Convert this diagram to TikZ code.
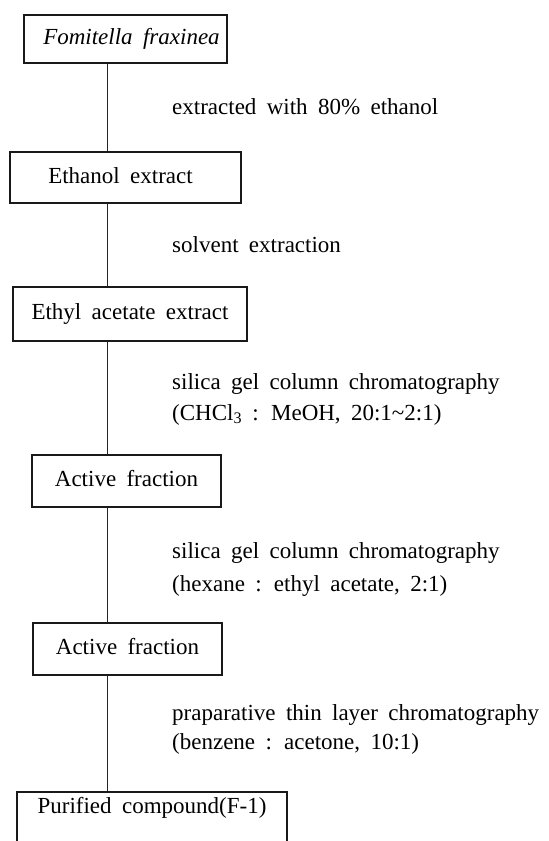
\documentclass[tikz,border=0pt]{standalone}
\usepackage{fontspec}
\setmainfont{Liberation Serif}[WordSpace=1.8]
\begin{document}
\begin{tikzpicture}[x=1pt,y=1pt,
  every node/.style={font=\fontsize{23}{28}\selectfont},
  box/.style={draw=black!90, line width=1.2pt, inner sep=0pt, text height=16pt, text depth=5pt},
  link/.style={draw=black!85, line width=0.9pt},
  lbl/.style={anchor=base west, inner sep=0pt}]
\useasboundingbox (0,0) rectangle (549,-841);
\clip (0,0) rectangle (549,-841);
\coordinate (spine) at (107,0);
% boxes
\node[box, minimum width=203pt, minimum height=48pt] (b1) at (125.5,-39) {\hspace*{12pt}\textit{Fomitella fraxinea}};
\node[box, minimum width=231pt, minimum height=51pt] (b2) at (125.5,-177.5) {Ethanol extract\hspace*{10pt}};
\node[box, minimum width=234pt, minimum height=54pt] (b3) at (130,-314) {Ethyl acetate extract};
\node[box, minimum width=189pt, minimum height=52pt] (b4) at (126.5,-481) {Active fraction};
\node[box, minimum width=189pt, minimum height=52pt] (b5) at (127.5,-649) {Active fraction};
\node[box, minimum width=270pt, minimum height=56pt, text depth=30pt] (b6) at (152,-820) {Purified compound(F-1)};
% connectors
\draw[link] (b1.south -| spine) -- (b2.north -| spine);
\draw[link] (b2.south -| spine) -- (b3.north -| spine);
\draw[link] (b3.south -| spine) -- (b4.north -| spine);
\draw[link] (b4.south -| spine) -- (b5.north -| spine);
\draw[link] (b5.south -| spine) -- (b6.north -| spine);
% labels
\node[lbl] (l1) at (172,-114) {extracted with 80\% ethanol};
\node[lbl] (l2) at (172,-252) {solvent extraction};
\node[lbl] (l3a) at (172,-389) {silica gel column chromatography};
\node[lbl] (l3b) at (172,-420) {(CHCl\textsubscript{3} : MeOH, 20:1\textasciitilde 2:1)};
\node[lbl] (l4a) at (172,-558) {silica gel column chromatography};
\node[lbl] (l4b) at (172,-591) {(hexane : ethyl acetate, 2:1)};
\node[lbl] (l5a) at (172,-720) {praparative thin layer chromatography};
\node[lbl] (l5b) at (172,-749) {(benzene : acetone, 10:1)};
\end{tikzpicture}
\end{document}
